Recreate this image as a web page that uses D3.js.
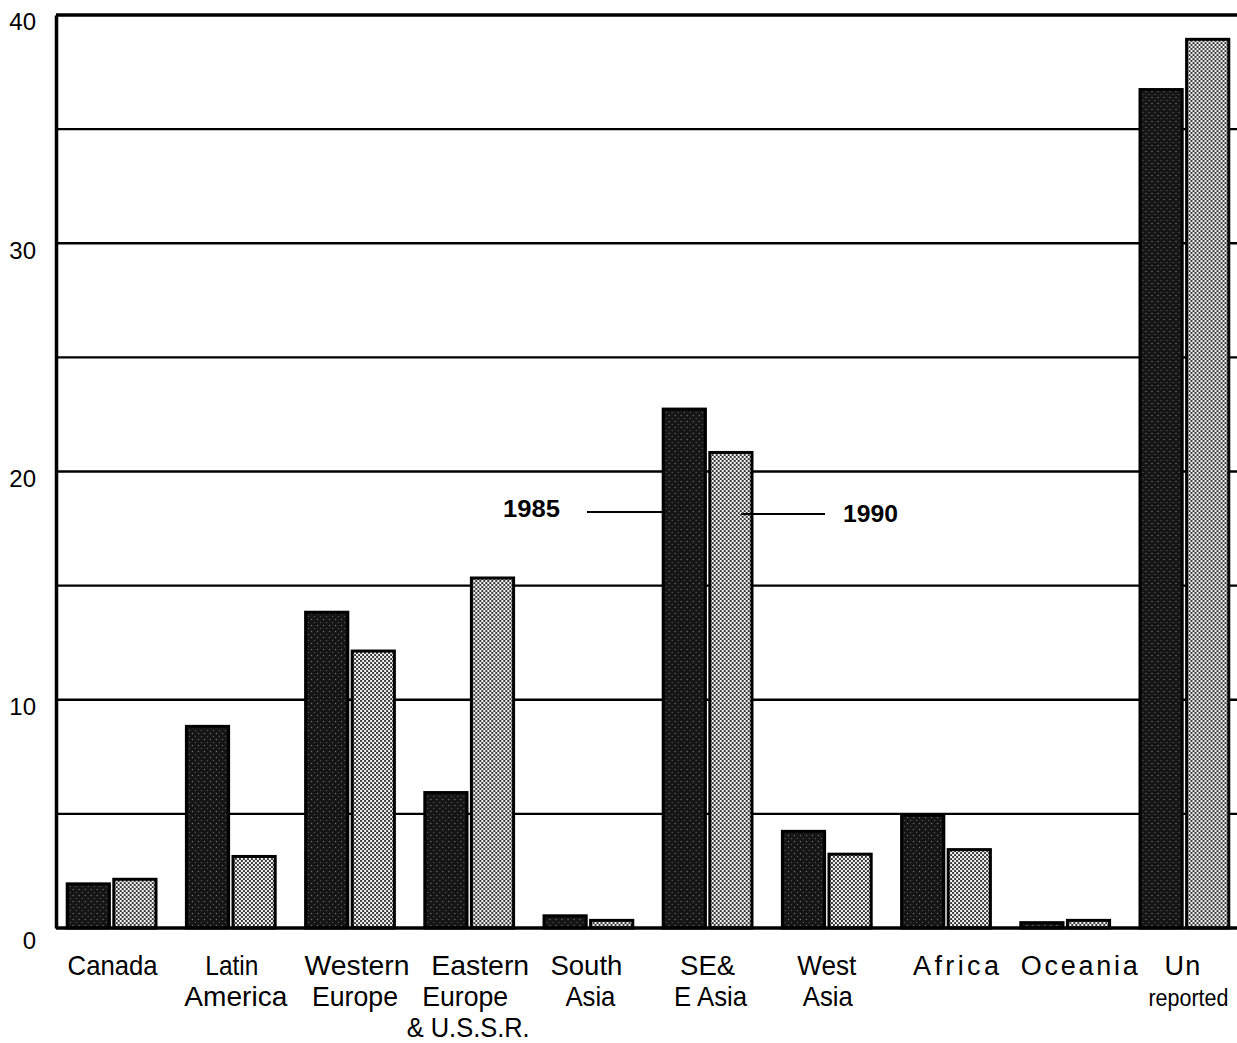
<!DOCTYPE html>
<html>
<head>
<meta charset="utf-8">
<script src="https://cdn.jsdelivr.net/npm/d3@7"></script>
<style>
  body { margin: 0; background: #fff; }
  text { font-family: "Liberation Sans", Arial, sans-serif; fill: #000; }
</style>
</head>
<body>
<script>
// chart size
var width = 1237;
var height = 1043;

// data
var categories = ['Canada', 'Latin America', 'Western Europe', 'Eastern Europe', 'South Asia',
  'SE& E Asia', 'West Asia', 'Africa', 'Oceania', 'Unreported'];
var labelLines = [['Canada'], ['Latin', 'America'], ['Western', 'Europe'], ['Eastern', 'Europe', '& U.S.S.R.'],
  ['South', 'Asia'], ['SE&', 'E Asia'], ['West', 'Asia'], ['Africa'], ['Oceania'], ['Un', 'reported']];
var years = ['1985', '1990'];
var values1985 = [2.0, 8.9, 13.9, 6.0, 0.6, 22.8, 4.3, 5.0, 0.3, 36.8];
var values1990 = [2.2, 3.2, 12.2, 15.4, 0.4, 20.9, 3.3, 3.5, 0.4, 39.0];
var yTicks = [0, 10, 20, 30, 40];
var gridValues = [5, 10, 15, 20, 25, 30, 35, 40];

// how each label line sits under its group:
// [shift from centre, printed width, font size, letter-spaced?]
var labelFit = [
  [[1, 90, 28]],
  [[1, 53, 28], [5, 103, 28]],
  [[7, 105, 28], [5, 86, 28]],
  [[11, 98, 28], [-4, 86, 28], [-1, 123, 28]],
  [[-2, 72, 28], [2, 50, 28]],
  [[0, 55, 28], [3, 73, 28]],
  [[0, 59, 28], [1, 50, 28]],
  [[10, 86, 27, true]],
  [[14, 117, 27, true]],
  [[-2, 36, 27, true], [4, 80, 23]]
];

var svg = d3.select('body').append('svg')
  .attr('width', width)
  .attr('height', height);

// dotted fills like the old print
var defs = svg.append('defs');
var dark = defs.append('pattern').attr('id', 'darkDots')
  .attr('width', 6).attr('height', 6).attr('patternUnits', 'userSpaceOnUse');
dark.append('rect').attr('width', 6).attr('height', 6).attr('fill', '#151515');
dark.append('circle').attr('cx', 1.5).attr('cy', 1.5).attr('r', 0.7).attr('fill', '#777');
dark.append('circle').attr('cx', 4.5).attr('cy', 4.5).attr('r', 0.7).attr('fill', '#555');
var light = defs.append('pattern').attr('id', 'lightDots')
  .attr('width', 4).attr('height', 4).attr('patternUnits', 'userSpaceOnUse');
light.append('rect').attr('width', 4).attr('height', 4).attr('fill', '#f4f4f4');
light.append('circle').attr('cx', 1).attr('cy', 1).attr('r', 1.05).attr('fill', '#222');
light.append('circle').attr('cx', 3).attr('cy', 3).attr('r', 1.05).attr('fill', '#222');

var plotLeft = 56, plotRight = 1237, plotTop = 15, plotBottom = 928;

var y = d3.scaleLinear().domain([0, 40]).range([plotBottom, plotTop]);
var x = d3.scaleBand().domain(categories).range([52, 1244])
  .paddingInner(0.23).paddingOuter(0.115);
var xi = d3.scaleBand().domain(years).range([0, x.bandwidth()]).paddingInner(0.03);

// grid lines
svg.append('g').selectAll('line').data(gridValues).enter().append('line')
  .attr('x1', plotLeft).attr('x2', plotRight)
  .attr('y1', function(d){ return y(d); })
  .attr('y2', function(d){ return y(d); })
  .attr('stroke', '#000')
  .attr('stroke-width', function(d){ return d === 40 ? 3.5 : 2.4; });

// left axis
var yAxis = d3.axisLeft(y).tickValues(yTicks).tickSize(0).tickPadding(20);
var gy = svg.append('g').attr('transform', 'translate(' + plotLeft + ',0)').call(yAxis);
gy.select('.domain').attr('stroke', '#000').attr('stroke-width', 3.5);
gy.selectAll('text').style('font-size', '24px').attr('dy', '0.62em')
  .attr('x', -20);
gy.selectAll('.tick').filter(function(d){ return d === 0; }).select('text').attr('dy', '0.85em');

// bars
var groups = svg.append('g').selectAll('g').data(categories).enter().append('g')
  .attr('transform', function(d){ return 'translate(' + x(d) + ',0)'; });

groups.selectAll('rect')
  .data(function(d, i){ return [{ year: '1985', v: values1985[i] }, { year: '1990', v: values1990[i] }]; })
  .enter().append('rect')
  .attr('x', function(d){ return xi(d.year) + 1.5; })
  .attr('y', function(d){ return y(d.v) + 1.5; })
  .attr('width', xi.bandwidth() - 3)
  .attr('height', function(d){ return Math.max(0, plotBottom - y(d.v) - 1.5); })
  .attr('fill', function(d){ return d.year === '1985' ? 'url(#darkDots)' : 'url(#lightDots)'; })
  .attr('stroke', '#000')
  .attr('stroke-width', 3);

// baseline
svg.append('line')
  .attr('x1', plotLeft).attr('x2', plotRight)
  .attr('y1', plotBottom).attr('y2', plotBottom)
  .attr('stroke', '#000').attr('stroke-width', 3.5);

// category labels, fitted to the printed widths
var baselines = [975, 1006, 1037];
var xLabels = svg.append('g');
categories.forEach(function(c, i){
  var cx = x(c) + x.bandwidth() / 2;
  labelLines[i].forEach(function(line, j){
    var fit = labelFit[i][j];
    xLabels.append('text')
      .attr('x', cx + fit[0])
      .attr('y', baselines[j])
      .attr('text-anchor', 'middle')
      .attr('textLength', fit[1])
      .attr('lengthAdjust', fit[3] ? 'spacing' : 'spacingAndGlyphs')
      .style('font-size', fit[2] + 'px')
      .text(line);
  });
});

// year callouts
var sePos = x(categories[5]);
var legend = svg.append('g');
legend.append('text').attr('x', 503).attr('y', 517)
  .attr('textLength', 57).attr('lengthAdjust', 'spacingAndGlyphs')
  .style('font-size', '24px').style('font-weight', 'bold').text(years[0]);
legend.append('line').attr('x1', 587).attr('x2', sePos + xi('1985') + 3)
  .attr('y1', 512).attr('y2', 512).attr('stroke', '#000').attr('stroke-width', 2);
legend.append('text').attr('x', 843).attr('y', 522)
  .attr('textLength', 55).attr('lengthAdjust', 'spacingAndGlyphs')
  .style('font-size', '24px').style('font-weight', 'bold').text(years[1]);
legend.append('line').attr('x1', sePos + xi('1990') + 33).attr('x2', 825)
  .attr('y1', 514).attr('y2', 514).attr('stroke', '#000').attr('stroke-width', 2);
</script>
</body>
</html>
